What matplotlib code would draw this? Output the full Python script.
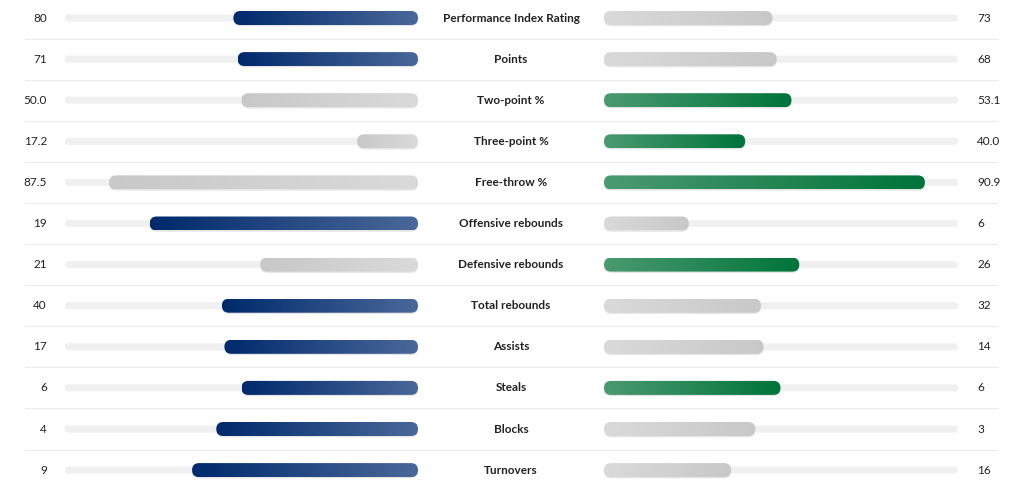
import numpy as np
import matplotlib.pyplot as plt
from matplotlib.patches import FancyBboxPatch
from matplotlib.colors import LinearSegmentedColormap

# Daten
stats = ['Performance Index Rating', 'Points', 'Two-point %', 'Three-point %',
         'Free-throw %', 'Offensive rebounds', 'Defensive rebounds',
         'Total rebounds', 'Assists', 'Steals', 'Blocks', 'Turnovers']
left_vals = [80, 71, 50.0, 17.2, 87.5, 19, 21, 40, 17, 6, 4, 9]
right_vals = [73, 68, 53.1, 40.0, 90.9, 6, 26, 32, 14, 6, 3, 16]
is_pct = [False, False, True, True, True, False, False, False, False, False, False, False]
lower_better = [False] * 11 + [True]

plt.rcParams['font.family'] = ['Lato', 'DejaVu Sans']

W, H = 1024, 490
fig = plt.figure(figsize=(W / 100, H / 100), dpi=100)
ax = fig.add_axes([0, 0, 1, 1])
ax.set_xlim(0, W)
ax.set_ylim(H, 0)
ax.axis('off')

# Farben
blue = LinearSegmentedColormap.from_list('b', ['#002a6c', '#4a6899'])
green = LinearSegmentedColormap.from_list('g', ['#4b9a70', '#00743a'])
gray_l = LinearSegmentedColormap.from_list('gl', ['#c8c8c8', '#dadada'])
gray_r = LinearSegmentedColormap.from_list('gr', ['#dadada', '#c8c8c8'])

L0, L1 = 65, 418
R0, R1 = 604, 958
track_len = L1 - L0
row0, step = 18, 41.1
bar_h, track_h = 14, 7


def pill(x0, x1, yc, h, **kw):
    return FancyBboxPatch((x0, yc - h / 2), max(x1 - x0, 0.01), h,
                          boxstyle=f'round,pad=0,rounding_size={h / 2}',
                          mutation_aspect=1, **kw)


def gradient_bar(x0, x1, yc, cmap):
    # Schatten
    ax.add_patch(pill(x0, x1, yc + 1.0, bar_h + 0.5, facecolor='#000000',
                      edgecolor='none', alpha=0.10, zorder=2))
    p = pill(x0, x1, yc, bar_h, facecolor='none', edgecolor='none', zorder=3)
    ax.add_patch(p)
    grad = np.linspace(0, 1, 256).reshape(1, -1)
    im = ax.imshow(grad, cmap=cmap, aspect='auto', zorder=3,
                   extent=[x0, x1, yc + bar_h / 2, yc - bar_h / 2],
                   interpolation='bilinear')
    im.set_clip_path(p)


for i, name in enumerate(stats):
    y = row0 + i * step
    lv, rv = left_vals[i], right_vals[i]
    if is_pct[i]:
        lf, rf = lv / 100, rv / 100
    else:
        lf, rf = lv / (lv + rv), rv / (lv + rv)
    if lower_better[i]:
        lf, rf = rf, lf
    left_win = (lv <= rv) if lower_better[i] else (lv >= rv)
    right_win = (rv <= lv) if lower_better[i] else (rv >= lv)

    # Spuren
    ax.add_patch(pill(L0, L1, y, track_h, facecolor='#f0f0f0', edgecolor='none', zorder=1))
    ax.add_patch(pill(R0, R1, y, track_h, facecolor='#f0f0f0', edgecolor='none', zorder=1))

    gradient_bar(L1 - lf * track_len, L1, y, blue if left_win else gray_l)
    gradient_bar(R0, R0 + rf * track_len, y, green if right_win else gray_r)

    fmt = (lambda v: f'{v:.1f}') if is_pct[i] else (lambda v: f'{v:g}')
    ax.text(47, y, fmt(lv), ha='right', va='center', fontsize=8.5, color='#222222')
    ax.text(977, y, fmt(rv), ha='left', va='center', fontsize=8.5, color='#222222')
    ax.text(511, y, name, ha='center', va='center', fontsize=8.5,
            fontweight='bold', color='#222222')

    if i < len(stats) - 1:
        ax.plot([25, 997], [y + step / 2, y + step / 2], color='#ececec', lw=0.8, zorder=0)

fig.savefig('out.png', dpi=100)
